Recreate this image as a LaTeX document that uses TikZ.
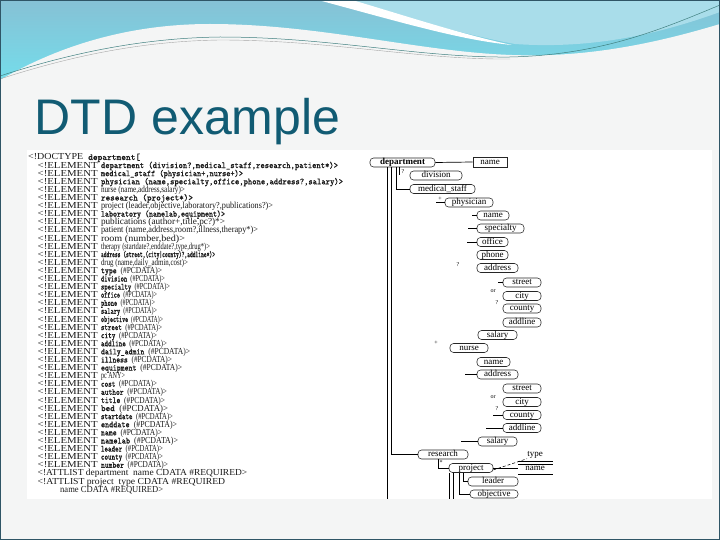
\documentclass[tikz,border=0pt]{standalone}
\usepackage{fontspec}
\usepackage{graphicx}
\setmainfont{Liberation Serif}
\newfontfamily\titlefont{Liberation Sans}
\newfontfamily\dtdserif{Liberation Serif}
\newfontfamily\dtdmono[FakeBold=0.6]{Latin Modern Mono}
\usetikzlibrary{shadings}
\definecolor{titleblue}{HTML}{115B73}
\definecolor{hA}{HTML}{86C1D5}
\definecolor{hB}{HTML}{74DDEB}
\definecolor{hC}{HTML}{A9DDEA}
\definecolor{bgc}{HTML}{F4F5F5}
\definecolor{frame}{HTML}{2F5566}
\newcommand{\elm}{\resizebox{60pt}{\height}{\dtdserif <!ELEMENT}\hspace{3.3pt}}
\newcommand{\mt}[2]{\resizebox{#1pt}{\height}{\dtdmono #2}}
\newcommand{\st}[2]{\resizebox{#1pt}{\height}{\dtdserif #2}}
\newcommand{\pcd}{\dtdserif(\#PCDATA)>}
\tikzset{
  dl/.style={anchor=base west, inner sep=0pt, text=black!90, font=\fontsize{9.2}{9}\selectfont},
  tb/.style={draw=black!85, line width=0.55pt, rounded corners=3.5pt, inner sep=0pt,
    text height=6.2pt, text depth=1.8pt, minimum height=9pt, font=\dtdserif\fontsize{9}{9}\selectfont},
  lab/.style={inner sep=0pt, font=\dtdserif\fontsize{6}{6}\selectfont},
  cn/.style={line width=0.7pt, black}
}
\begin{document}
\begin{tikzpicture}[x=1pt,y=-1pt]
\useasboundingbox (0,0) rectangle (720,540);
% slide background and header
\fill[bgc] (0,0) rectangle (720,540);
\shade[top color=hA, bottom color=hB] (0,0) rectangle (720,82);
\fill[hC] (330,0) .. controls (410,18) and (470,36) .. (515,44) .. controls (600,50) and (670,30) .. (720,12) -- (720,0) -- cycle;
\fill[white] (318,0) .. controls (400,22) and (460,40) .. (512,45) .. controls (460,34) and (400,14) .. (352,0) -- cycle;
\fill[bgc] (0,80) .. controls (60,45) and (130,24) .. (210,24) .. controls (320,24) and (420,52) .. (512,55) .. controls (590,58) and (660,42) .. (720,24) -- (720,540) -- (0,540) -- cycle;
\draw[line width=0.5pt, teal!50!gray] (0,76) .. controls (80,50) and (150,38) .. (220,37) .. controls (330,37) and (420,58) .. (510,57) .. controls (600,55) and (660,30) .. (720,5);
\draw[line width=0.4pt, gray!70] (0,79) .. controls (80,53) and (150,41) .. (220,40) .. controls (330,40) and (420,60) .. (510,59);
\draw[line width=1.2pt, frame] (0,0) rectangle (720,540);
% title
\node[anchor=base west, inner sep=0pt, text=titleblue, font=\titlefont\fontsize{50}{50}\selectfont] (title) at (34.5,135) {DTD example};
% content area
\fill[white] (27,150) rectangle (712,499);
% DTD listing
\node[dl] (l1) at (28,160) {\resizebox{55pt}{\height}{\dtdserif <!DOCTYPE}\hspace{5pt}\mt{52}{department[}};
\node[dl] (l2) at (37.5,168.1) {\elm\mt{237}{department (division?,medical\_staff,research,patient*)>}};
\node[dl] (l3) at (37.5,176.2) {\elm\mt{142}{medical\_staff (physician+,nurse+)>}};
\node[dl] (l4) at (37.5,184.3) {\elm\mt{242}{physician (name,specialty,office,phone,address?,salary)>}};
\node[dl] (l5) at (37.5,192.4) {\elm\st{84}{nurse (name,address,salary)>}};
\node[dl] (l6) at (37.5,200.5) {\elm\mt{92}{research (project*)>}};
\node[dl] (l7) at (37.5,208.6) {\elm\st{172}{project (leader,objective,laboratory?,publications?)>}};
\node[dl] (l8) at (37.5,216.7) {\elm\mt{124}{laboratory (namelab,equipment)>}};
\node[dl] (l9) at (37.5,224.8) {\elm\st{124}{publications (author+,title,pc?)*>}};
\node[dl] (l10) at (37.5,232.9) {\elm\st{157}{patient (name,address,room?,illness,therapy*)>}};
\node[dl] (l11) at (37.5,241) {\elm\st{84}{room (number,bed)>}};
\node[dl] (l12) at (37.5,249.1) {\elm\st{109}{therapy (startdate?,enddate?,type,drug*)>}};
\node[dl] (l13) at (37.5,257.2) {\elm\mt{114}{address (street,(city|county)?,addline*)>}};
\node[dl] (l14) at (37.5,265.3) {\elm\st{87}{drug (name,daily\_admin,cost)>}};
\node[dl] (l15) at (37.5,273.4) {\elm\mt{61}{type \pcd}};
\node[dl] (l16) at (37.5,281.5) {\elm\mt{64}{division \pcd}};
\node[dl] (l17) at (37.5,289.6) {\elm\mt{69}{specialty \pcd}};
\node[dl] (l18) at (37.5,297.7) {\elm\mt{56}{office \pcd}};
\node[dl] (l19) at (37.5,305.8) {\elm\mt{54}{phone \pcd}};
\node[dl] (l20) at (37.5,313.9) {\elm\mt{56}{salary \pcd}};
\node[dl] (l21) at (37.5,322) {\elm\mt{62}{objective \pcd}};
\node[dl] (l22) at (37.5,330.1) {\elm\mt{61}{street \pcd}};
\node[dl] (l23) at (37.5,338.2) {\elm\mt{56}{city \pcd}};
\node[dl] (l24) at (37.5,346.3) {\elm\mt{66}{addline \pcd}};
\node[dl] (l25) at (37.5,354.4) {\elm\mt{89}{daily\_admin \pcd}};
\node[dl] (l26) at (37.5,362.5) {\elm\mt{71}{illness \pcd}};
\node[dl] (l27) at (37.5,370.6) {\elm\mt{81}{equipment \pcd}};
\node[dl] (l28) at (37.5,378.7) {\elm\st{24}{pc ANY>}};
\node[dl] (l29) at (37.5,386.8) {\elm\mt{56}{cost \pcd}};
\node[dl] (l30) at (37.5,394.9) {\elm\mt{66}{author \pcd}};
\node[dl] (l31) at (37.5,403) {\elm\mt{64}{title \pcd}};
\node[dl] (l32) at (37.5,411.1) {\elm\mt{67}{bed \pcd}};
\node[dl] (l33) at (37.5,419.2) {\elm\mt{72}{startdate \pcd}};
\node[dl] (l34) at (37.5,427.3) {\elm\mt{76}{enddate \pcd}};
\node[dl] (l35) at (37.5,435.4) {\elm\mt{61}{name \pcd}};
\node[dl] (l36) at (37.5,443.5) {\elm\mt{77}{namelab \pcd}};
\node[dl] (l37) at (37.5,451.6) {\elm\mt{62}{leader \pcd}};
\node[dl] (l38) at (37.5,459.7) {\elm\mt{62}{county \pcd}};
\node[dl] (l39) at (37.5,467.8) {\elm\mt{67}{number \pcd}};
\node[dl] (l40) at (37.5,475.9) {\st{209.5}{<!ATTLIST department\ \ name CDATA \#REQUIRED>}};
\node[dl] (l41) at (37.5,484) {\st{187.5}{<!ATTLIST project\ \ type CDATA \#REQUIRED}};
\node[dl] (l42) at (60,492.1) {\st{103}{name CDATA \#REQUIRED>}};
% tree
\node[tb, minimum width=65pt, font=\dtdserif\bfseries\fontsize{9}{9}\selectfont] (dep) at (402.5,162.5) {department};
\node[draw=black!85, line width=0.55pt, inner sep=0pt, minimum width=34pt, minimum height=10pt, text height=6.2pt, text depth=1.8pt, font=\dtdserif\fontsize{9}{9}\selectfont] (attname) at (490,162) {name};
\node[tb, minimum width=52pt] (div) at (436,175.5) {division};
\node[tb, minimum width=65pt] (med) at (442.5,189) {medical\_staff};
\node[tb, minimum width=48pt] (phy) at (469,202.5) {physician};
\node[tb, minimum width=32pt] (nm1) at (493,215.5) {name};
\node[tb, minimum width=47pt] (spec) at (500.5,228.5) {specialty};
\node[tb, minimum width=31pt] (off) at (492.5,242) {office};
\node[tb, minimum width=31pt] (pho) at (492.5,255) {phone};
\node[tb, minimum width=41pt] (adr1) at (497.5,268) {address};
\node[tb, minimum width=38pt] (st1) at (522,282.5) {street};
\node[tb, minimum width=38pt] (ci1) at (522,296) {city};
\node[tb, minimum width=38pt] (co1) at (522,308.5) {county};
\node[tb, minimum width=38pt] (ad1) at (522,322.5) {addline};
\node[tb, minimum width=39pt] (sal1) at (497.5,335) {salary};
\node[tb, minimum width=38pt] (nur) at (469,348) {nurse};
\node[tb, minimum width=33pt] (nm2) at (493.5,362) {name};
\node[tb, minimum width=41pt] (adr2) at (497.5,374.5) {address};
\node[tb, minimum width=38pt] (st2) at (522,388.5) {street};
\node[tb, minimum width=38pt] (ci2) at (522,402) {city};
\node[tb, minimum width=38pt] (co2) at (522,415) {county};
\node[tb, minimum width=38pt] (ad2) at (522,428) {addline};
\node[tb, minimum width=39pt] (sal2) at (497.5,441.5) {salary};
\node[tb, minimum width=50pt] (res) at (443,454.5) {research};
\node[tb, minimum width=44pt] (proj) at (471,468) {project};
\node[tb, minimum width=50pt] (lead) at (493,481.5) {leader};
\node[tb, minimum width=48pt, minimum height=8pt] (obj) at (494,494) {objective};
% attributes of project
\node[inner sep=0pt, font=\dtdserif\fontsize{9}{9}\selectfont] (atype) at (535,455) {type};
\node[inner sep=0pt, font=\dtdserif\fontsize{9}{9}\selectfont] (aname) at (535,468.5) {name};
\coordinate (abar) at (518,468);
\draw[cn] (518,461) -- (553,461);
\draw[cn] (518,464) -- (553,464);
\draw[cn] (518,474) -- (553,474);
% labels
\node[lab] (q1) at (403,172) {?};
\node[lab] (p1) at (440,199) {+};
\node[lab] (q2) at (458,265) {?};
\node[lab] (or1) at (493,291) {or};
\node[lab] (q3) at (497,303) {?};
\node[lab] (p2) at (436,343) {+};
\node[lab] (or2) at (493,397) {or};
\node[lab] (q4) at (497,409) {?};
\node[lab] (s1) at (441,463) {*};
% connectors
\coordinate (pat) at (387,499);
\draw[cn] (dep.east) -- (attname.west);
\draw[cn] ([xshift=-6.5pt]dep.south) |- (med.west);
\draw[cn] ([xshift=-11.5pt]dep.south) |- (res.west);
\draw[cn] ([xshift=-15.5pt]dep.south) -- (pat |- dep.south) -- (pat);
\draw[cn] ([xshift=-3.5pt]dep.south) -- ++(0,8);
\draw[cn] (phy.west) -- ++(-9,0);
\draw[cn] (nm1.west) -- ++(-5,0);
\draw[cn] (spec.west) -- ++(-9,0);
\draw[cn] (off.west) -- ++(-10,0);
\draw[cn] (st1.west) -- ++(-5,0);
\draw[cn] (adr2.west) -- ++(-12,0);
\draw[cn] (co2.west) -- ++(-10,0);
\draw[cn] (ad2.west) -- ++(-17,0);
\draw[cn] (sal2.west) -- ++(-17,0);
\draw[cn] ([xshift=-5pt]res.south) |- (proj.west);
\draw[cn] (proj.east) -- (abar);
\draw[cn, densely dashed, line width=0.5pt] ([yshift=-2pt]proj.east) -- (atype.south west);
\draw[cn] ([xshift=-8pt]proj.south) |- (lead.west);
\draw[cn] ([xshift=-12pt]proj.south) |- (obj.west);
\draw[cn] ([xshift=-18pt]proj.south) -- ++(0,26);
\draw[cn] ([xshift=-22pt]proj.south) -- ++(0,26);
\end{tikzpicture}
\end{document}
